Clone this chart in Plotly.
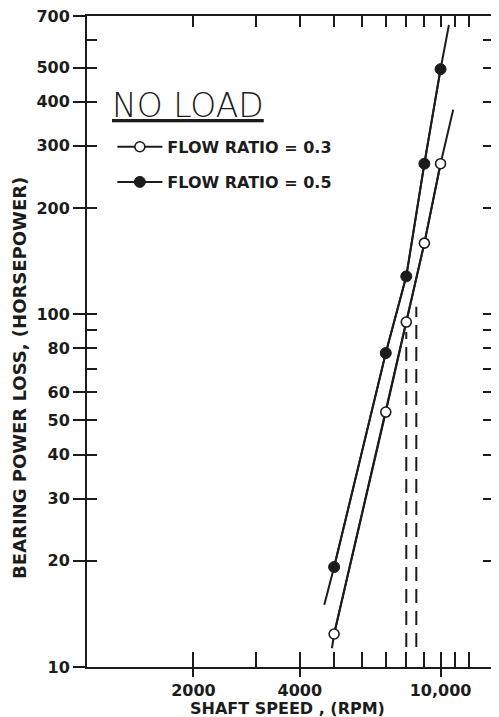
import math
import plotly.graph_objects as go

INK = "#1c1c1c"
FONT = "DejaVu Sans"

# ---- data ----
RPM = [5000, 7000, 8000, 9000, 10000]
HP_FLOW_03 = [12.4, 52.8, 95, 159, 267]
HP_FLOW_05 = [19.2, 77.6, 128, 267, 495]

# faired curves including their drawn extensions
CURVE_03_RPM = [4930, 5000, 7000, 8000, 9000, 10000, 10860]
CURVE_03_HP = [11.3, 12.4, 52.8, 95, 159, 267, 380]
CURVE_05_RPM = [4690, 5000, 7000, 8000, 9000, 10000, 10560]
CURVE_05_HP = [15.0, 19.2, 77.6, 128, 267, 495, 660]

# dashed drop lines
DROP_A_RPM = [8000, 8000]
DROP_A_HP = [11.4, 89]
DROP_B_RPM = [8540, 8540]
DROP_B_HP = [11.4, 105]

# ticks
Y_TICKS = [10, 20, 30, 40, 50, 60, 80, 100, 200, 300, 400, 500, 700]
Y_TICK_TEXT = [str(v) for v in Y_TICKS]
Y_INNER = Y_TICKS + [70, 90, 600]
Y_RIGHT = [20, 30, 40, 50, 60, 70, 80, 90, 100, 200, 300, 400, 500, 600]
X_TICKS = [2000, 4000, 10000]
X_TICK_TEXT = ["2000", "4000", "10,000"]
X_INNER = [2000, 3000, 4000, 5000, 6000, 7000, 8000, 9000, 10000, 11000, 12000]

X_MIN, X_MAX = 1000, 14350
Y_MIN, Y_MAX = 10, 700
X_RANGE = [math.log10(X_MIN), math.log10(X_MAX)]
Y_RANGE = [math.log10(Y_MIN) - 1e-4, math.log10(Y_MAX) + 1e-4]

fig = go.Figure()

line_style = dict(color=INK, width=2)

fig.add_trace(go.Scatter(x=CURVE_05_RPM, y=CURVE_05_HP, mode="lines", line=line_style,
                         showlegend=False, hoverinfo="skip"))
fig.add_trace(go.Scatter(x=CURVE_03_RPM, y=CURVE_03_HP, mode="lines", line=line_style,
                         showlegend=False, hoverinfo="skip"))
for xs, ys in [(DROP_A_RPM, DROP_A_HP), (DROP_B_RPM, DROP_B_HP)]:
    fig.add_trace(go.Scatter(x=xs, y=ys, mode="lines",
                             line=dict(color=INK, width=2, dash="14px,8px"),
                             showlegend=False, hoverinfo="skip"))

fig.add_trace(go.Scatter(x=RPM, y=HP_FLOW_03, mode="lines+markers", name="FLOW RATIO = 0.3",
                         line=line_style,
                         marker=dict(symbol="circle", size=10, color="white",
                                     line=dict(color=INK, width=1.6)),
                         legend="legend"))
fig.add_trace(go.Scatter(x=RPM, y=HP_FLOW_05, mode="lines+markers", name="FLOW RATIO = 0.5",
                         line=line_style,
                         marker=dict(symbol="circle", size=11, color=INK,
                                     line=dict(color=INK, width=1)),
                         legend="legend2"))

# empty traces that only switch on the extra tick-axes
for xa, ya in [("x2", "y"), ("x3", "y"), ("x", "y2"), ("x", "y3")]:
    fig.add_trace(go.Scatter(x=[], y=[], xaxis=xa, yaxis=ya, mode="markers",
                             showlegend=False, hoverinfo="skip"))

# the page body has an 8px margin, so the figure is 8px smaller than the window
fig.update_layout(
    width=491, height=709,
    margin=dict(l=79, r=3, t=8, b=50, autoexpand=False),
    paper_bgcolor="white", plot_bgcolor="white",
    xaxis=dict(type="log", range=X_RANGE, showgrid=False, zeroline=False, automargin=False,
               showline=True, linecolor=INK, linewidth=2,
               tickmode="array", tickvals=X_TICKS, ticktext=X_TICK_TEXT,
               ticks="outside", ticklen=8, tickwidth=2, tickcolor=INK,
               ticklabeloverflow="allow",
               tickfont=dict(family=FONT, size=16, color=INK, weight="bold")),
    xaxis2=dict(type="log", range=X_RANGE, overlaying="x", anchor="y", side="bottom",
                showgrid=False, zeroline=False, showline=False, automargin=False,
                tickmode="array", tickvals=X_INNER, showticklabels=False,
                ticks="inside", ticklen=15, tickwidth=2, tickcolor=INK),
    xaxis3=dict(type="log", range=X_RANGE, overlaying="x", anchor="y", side="top",
                showgrid=False, zeroline=False, showline=True, linecolor=INK, linewidth=2,
                automargin=False,
                tickmode="array", tickvals=X_INNER, showticklabels=False,
                ticks="inside", ticklen=11, tickwidth=2, tickcolor=INK),
    yaxis=dict(type="log", range=Y_RANGE, showgrid=False, zeroline=False, automargin=False,
               showline=True, linecolor=INK, linewidth=2,
               tickmode="array", tickvals=Y_TICKS, ticktext=Y_TICK_TEXT,
               ticks="outside", ticklen=12, tickwidth=2, tickcolor=INK,
               ticklabeloverflow="allow",
               tickfont=dict(family=FONT, size=16, color=INK, weight="bold")),
    yaxis2=dict(type="log", range=Y_RANGE, overlaying="y", anchor="x", side="left",
                showgrid=False, zeroline=False, showline=False, automargin=False,
                tickmode="array", tickvals=Y_INNER, showticklabels=False,
                ticks="inside", ticklen=10, tickwidth=2, tickcolor=INK),
    yaxis3=dict(type="log", range=Y_RANGE, overlaying="y", anchor="x", side="right",
                showgrid=False, zeroline=False, showline=True, linecolor=INK, linewidth=1.5,
                automargin=False,
                tickmode="array", tickvals=Y_RIGHT, showticklabels=False,
                ticks="inside", ticklen=13, tickwidth=2, tickcolor=INK),
    legend=dict(x=0.062, y=0.799, xanchor="left", yanchor="middle",
                bgcolor="rgba(0,0,0,0)", itemwidth=45,
                font=dict(family=FONT, size=16, color=INK, weight="bold")),
    legend2=dict(x=0.062, y=0.745, xanchor="left", yanchor="middle",
                 bgcolor="rgba(0,0,0,0)", itemwidth=45,
                 font=dict(family=FONT, size=16, color=INK, weight="bold")),
    annotations=[
        dict(text="<u>NO LOAD</u>", xref="paper", yref="paper", x=0.057, y=0.862,
             xanchor="left", yanchor="middle", showarrow=False,
             font=dict(family=FONT, size=33, color=INK, weight=200)),
        dict(text="BEARING POWER LOSS, (HORSEPOWER)", xref="paper", yref="paper",
             x=-0.164, y=0.444, xanchor="center", yanchor="middle", textangle=-90,
             showarrow=False, font=dict(family=FONT, size=18, color=INK, weight="bold")),
        dict(text="SHAFT SPEED , (RPM)", xref="paper", yref="paper",
             x=0.489, y=-0.064, xanchor="center", yanchor="middle",
             showarrow=False, font=dict(family=FONT, size=16, color=INK, weight="bold")),
    ],
)

fig.write_html("out.html")
